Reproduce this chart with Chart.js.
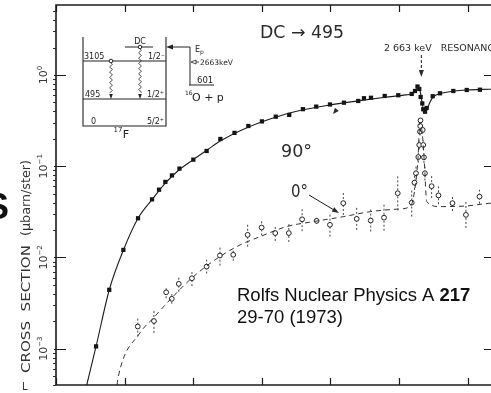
<!DOCTYPE html>
<html>
<head>
<meta charset="utf-8">
<script src="https://cdn.jsdelivr.net/npm/chart.js@4.4.1/dist/chart.umd.min.js"></script>
<style>
  html, body { margin: 0; padding: 0; background: #fff; overflow: hidden; width: 491px; height: 393px; }
  #wrap { position: relative; width: 500px; height: 393px; }
</style>
</head>
<body>
<div id="wrap"><canvas id="c" width="500" height="393"></canvas></div>
<script>
// 16O(p,γ)17F, direct capture to the 495 keV state. Proton energy in keV, yield in µb/sr.

// 90° measurements
const e90 = [292, 388, 491, 598, 700, 751, 797, 845, 900, 1001, 1098, 1198, 1301, 1402, 1501, 1602, 1700, 1800, 1897, 1997,
             2099, 2203, 2245, 2296, 2396, 2495, 2593, 2617, 2635, 2648, 2658, 2670, 2677, 2690, 2702, 2746, 2799, 2896, 2994, 3090];
const s90 = [1.06e-3, 4.42e-3, 1.21e-2, 2.69e-2, 4.33e-2, 5.53e-2, 6.73e-2, 7.93e-2, 9.41e-2, 0.118, 0.147, 0.199, 0.232, 0.276, 0.310, 0.349, 0.365, 0.422, 0.450, 0.475,
             0.497, 0.519, 0.556, 0.563, 0.589, 0.600, 0.620, 0.668, 0.748, 0.703, 0.574, 0.488, 0.421, 0.396, 0.435, 0.585, 0.630, 0.668, 0.685, 0.690];

// 90° calculated curve
const fitE90 = [224, 292, 388, 491, 598, 700, 800, 900, 1000, 1100, 1200, 1400, 1600, 1800, 2000, 2200, 2400, 2550, 2605, 2625,
                2640, 2655, 2668, 2680, 2692, 2705, 2725, 2750, 2800, 2900, 3000, 3100, 3200];
const fitS90 = [4.0e-4, 1.06e-3, 4.4e-3, 1.2e-2, 2.69e-2, 4.3e-2, 6.6e-2, 9.2e-2, 0.118, 0.15, 0.19, 0.268, 0.345, 0.415, 0.47, 0.52, 0.57, 0.605, 0.63, 0.68,
                0.75, 0.66, 0.50, 0.41, 0.385, 0.42, 0.50, 0.575, 0.625, 0.665, 0.685, 0.695, 0.70];

// 0° measurements with relative errors
const e0 = [596, 714, 803, 844, 895, 991, 1098, 1195, 1292, 1397, 1499, 1598, 1697, 1794, 1900, 1997, 2094, 2192, 2294, 2391,
            2491, 2593, 2613, 2624, 2641, 2648, 2653, 2655, 2657, 2673, 2677, 2682, 2689, 2738, 2788, 2890, 2988, 3087];
const s0 = [1.75e-3, 2.01e-3, 4.15e-3, 3.52e-3, 5.14e-3, 5.92e-3, 7.94e-3, 1.05e-2, 1.07e-2, 1.77e-2, 2.13e-2, 1.85e-2, 1.85e-2, 2.62e-2, 2.52e-2, 2.28e-2, 3.94e-2, 2.65e-2, 2.54e-2, 2.73e-2,
            5.06e-2, 3.99e-2, 6.61e-2, 8.37e-2, 0.126, 0.171, 0.239, 0.276, 0.318, 0.250, 0.171, 0.125, 8.37e-2, 6.04e-2, 4.79e-2, 3.94e-2, 2.93e-2, 4.64e-2];
const err0 = [0.29, 0.35, 0.16, 0.13, 0.22, 0.22, 0.19, 0.29, 0.16, 0.35, 0.22, 0.22, 0.25, 0.35, 0.08, 0.35, 0.35, 0.32, 0.32, 0.39,
              0.54, 0.42, 0.20, 0.20, 0.15, 0.12, 0.10, 0.10, 0.10, 0.10, 0.12, 0.15, 0.20, 0.35, 0.25, 0.22, 0.39, 0.19];

// 0° calculated curve
const fitE0 = [445, 454, 612, 709, 831, 989, 1159, 1341, 1487, 1681, 1875, 2094, 2294, 2483, 2580, 2609, 2638, 2653, 2671, 2686, 2702, 2799, 2993, 3163, 3200];
const fitS0 = [4.0e-4, 4.96e-4, 1.49e-3, 2.16e-3, 3.44e-3, 5.93e-3, 9.4e-3, 1.37e-2, 1.69e-2, 2.18e-2, 2.47e-2, 2.8e-2, 3.18e-2, 3.38e-2, 3.61e-2, 4.85e-2, 0.117, 0.305, 0.22, 0.103, 4.1e-2, 3.61e-2, 3.67e-2, 3.93e-2, 3.95e-2];

// axis ticks
const xTicks = [0, 500, 1000, 1500, 2000, 2500, 3000];
const yDecades = [-3, -2, -1, 0];
const resonanceKeV = 2663;

const pts = (xs, ys) => xs.map((x, i) => ({ x: x, y: ys[i] }));
const INK = '#1c1c1c';
const LETTER = '"DejaVu Sans", "Open Sans", sans-serif';
const NOTE = '"Liberation Sans", Arial, sans-serif';

function arrowHead(ctx, x, y, ang, len, wid, filled) {
  ctx.save();
  ctx.translate(x, y);
  ctx.rotate(ang);
  ctx.beginPath();
  ctx.moveTo(0, 0);
  ctx.lineTo(-len, -wid);
  ctx.lineTo(-len, wid);
  ctx.closePath();
  if (filled) ctx.fill(); else ctx.stroke();
  ctx.restore();
}

function wavy(ctx, x, y0, y1) {
  ctx.beginPath();
  for (let y = y0; y <= y1; y += 0.5) {
    const xx = x + 1.3 * Math.sin((y - y0) * 1.2);
    if (y === y0) ctx.moveTo(xx, y); else ctx.lineTo(xx, y);
  }
  ctx.stroke();
}

function fitText(ctx, txt, width) {
  const w = ctx.measureText(txt).width;
  ctx.save();
  ctx.scale(width / w, 1);
  ctx.fillText(txt, 0, 0);
  ctx.restore();
}

// error bars of the 0° data, beneath the markers
const errorBars = {
  id: 'errorBars',
  beforeDatasetsDraw(chart) {
    const { ctx, scales: { x, y }, chartArea: a } = chart;
    ctx.save();
    ctx.beginPath();
    ctx.rect(a.left, a.top, a.right - a.left, a.bottom - a.top);
    ctx.clip();
    ctx.strokeStyle = '#444';
    ctx.lineWidth = 1;
    ctx.setLineDash([2, 2]);
    e0.forEach((e, i) => {
      const px = x.getPixelForValue(e);
      const lo = y.getPixelForValue(s0[i] / (1 + err0[i]));
      const hi = y.getPixelForValue(s0[i] * (1 + err0[i]));
      ctx.beginPath();
      ctx.moveTo(px, lo);
      ctx.lineTo(px, hi);
      ctx.stroke();
    });
    ctx.restore();
  }
};

// frame, ticks, labels, level scheme and notes
const decor = {
  id: 'decor',
  afterDraw(chart) {
    const { ctx, scales: { x, y }, chartArea: a } = chart;
    ctx.save();
    ctx.strokeStyle = INK;
    ctx.fillStyle = INK;

    // frame (open on the right)
    ctx.lineWidth = 1.6;
    ctx.beginPath();
    ctx.moveTo(a.right + 4, a.top);
    ctx.lineTo(a.left, a.top);
    ctx.lineTo(a.left, a.bottom);
    ctx.lineTo(a.right + 4, a.bottom);
    ctx.stroke();

    // x ticks, top and bottom, pointing inward
    ctx.lineWidth = 1.2;
    xTicks.forEach(v => {
      const px = Math.round(x.getPixelForValue(v)) + 0.5;
      ctx.beginPath();
      ctx.moveTo(px, a.bottom); ctx.lineTo(px, a.bottom - 7);
      ctx.moveTo(px, a.top); ctx.lineTo(px, a.top + 7);
      ctx.stroke();
    });

    // y ticks: decades inward, minor outward
    yDecades.forEach(d => {
      const py = Math.round(y.getPixelForValue(Math.pow(10, d))) + 0.5;
      ctx.lineWidth = 1.2;
      ctx.beginPath();
      ctx.moveTo(a.left - 2, py); ctx.lineTo(a.left + 10, py);
      ctx.moveTo(a.right - 11, py); ctx.lineTo(a.right, py);
      ctx.stroke();
    });
    ctx.lineWidth = 0.9;
    for (let d = -4; d <= 0; d++) {
      for (let m = 2; m <= 9; m++) {
        const v = m * Math.pow(10, d);
        if (v < y.min || v > y.max) continue;
        const py = Math.round(y.getPixelForValue(v)) + 0.5;
        ctx.beginPath();
        ctx.moveTo(a.left - 3, py); ctx.lineTo(a.left, py);
        ctx.stroke();
      }
    }

    // decade labels, written upward
    ctx.fillStyle = '#333';
    yDecades.forEach(d => {
      const py = y.getPixelForValue(Math.pow(10, d));
      ctx.save();
      ctx.translate(44, py);
      ctx.rotate(-Math.PI / 2);
      ctx.textBaseline = 'middle';
      ctx.font = '11px ' + LETTER;
      const base = '10';
      const exp = d === 0 ? '0' : '\u2212' + (-d);
      const wb = ctx.measureText(base).width;
      ctx.font = '7px ' + LETTER;
      const we = ctx.measureText(exp).width;
      const x0 = -(wb + we) / 2;
      ctx.font = '11px ' + LETTER;
      ctx.fillText(base, x0, 0);
      ctx.font = '7px ' + LETTER;
      ctx.fillText(exp, x0 + wb, -4);
      ctx.restore();
    });

    // y axis title
    ctx.save();
    ctx.translate(30, 373);
    ctx.rotate(-Math.PI / 2);
    ctx.font = '13px ' + LETTER;
    ctx.textBaseline = 'alphabetic';
    fitText(ctx, 'CROSS  SECTION', 128);
    ctx.restore();
    ctx.save();
    ctx.translate(30, 236);
    ctx.rotate(-Math.PI / 2);
    ctx.font = '13px ' + LETTER;
    fitText(ctx, '(\u03BCbarn/ster)', 76);
    ctx.restore();

    // stray marks at the left margin
    ctx.fillStyle = '#111';
    ctx.font = 'bold 36px ' + NOTE;
    ctx.fillText('S', -15, 219);
    ctx.fillStyle = '#333';
    ctx.font = '10px ' + LETTER;
    ctx.fillText('L', 22, 390);

    // headings on the plot
    ctx.fillStyle = '#2a2a2a';
    ctx.save();
    ctx.translate(260, 38);
    ctx.font = '17px ' + LETTER;
    fitText(ctx, 'DC \u2192 495', 84);
    ctx.restore();
    ctx.save();
    ctx.translate(384, 51);
    ctx.font = '9.5px ' + LETTER;
    fitText(ctx, '2 663 keV   RESONANCE', 116);
    ctx.restore();

    // resonance arrow
    const rx = x.getPixelForValue(resonanceKeV);
    ctx.lineWidth = 1;
    ctx.setLineDash([3, 2]);
    ctx.beginPath();
    ctx.moveTo(rx, 55); ctx.lineTo(rx, 70);
    ctx.stroke();
    ctx.setLineDash([]);
    arrowHead(ctx, rx, 77, Math.PI / 2, 7, 2.5, true);

    // angle labels
    ctx.save();
    ctx.translate(281, 157);
    ctx.font = '18px ' + LETTER;
    fitText(ctx, '90\u00B0', 31);
    ctx.restore();
    ctx.save();
    ctx.translate(291, 197);
    ctx.font = '17px ' + LETTER;
    fitText(ctx, '0\u00B0', 17);
    ctx.restore();
    ctx.lineWidth = 1;
    ctx.beginPath();
    ctx.moveTo(309, 195); ctx.lineTo(334, 210);
    ctx.stroke();
    arrowHead(ctx, 339, 213, Math.atan2(18, 30), 7, 2.5, true);
    arrowHead(ctx, 333, 114, Math.atan2(6, -5), 6, 2.5, true);

    // reference note
    ctx.fillStyle = '#111';
    ctx.font = '18.5px ' + NOTE;
    const note = 'Rolfs Nuclear Physics A ';
    ctx.fillText(note, 237, 301);
    const nw = ctx.measureText(note).width;
    ctx.font = 'bold 18.5px ' + NOTE;
    ctx.fillText('217', 237 + nw, 301);
    ctx.font = '18.5px ' + NOTE;
    ctx.fillText('29-70 (1973)', 237, 323);

    // 17F level scheme
    ctx.strokeStyle = '#222';
    ctx.fillStyle = '#222';
    ctx.lineWidth = 1.1;
    ctx.beginPath();
    ctx.moveTo(83, 37); ctx.lineTo(83, 126); ctx.lineTo(166, 126); ctx.lineTo(166, 37);
    ctx.moveTo(83, 61); ctx.lineTo(166, 61);
    ctx.moveTo(83, 99); ctx.lineTo(166, 99);
    ctx.moveTo(125, 47); ctx.lineTo(153, 47);
    ctx.stroke();
    ctx.font = '8px ' + LETTER;
    ctx.textAlign = 'left';
    ctx.fillText('3105', 84, 59);
    ctx.fillText('495', 85, 97);
    ctx.fillText('0', 91, 124);
    ctx.textAlign = 'right';
    ctx.fillText('1/2\u207B', 165, 59);
    ctx.fillText('1/2\u207A', 164, 97);
    ctx.fillText('5/2\u207A', 164, 124);
    ctx.textAlign = 'center';
    ctx.fillText('DC', 140, 44);
    ctx.font = '7px ' + LETTER;
    ctx.fillText('17', 118, 132);
    ctx.font = '11px ' + LETTER;
    ctx.fillText('F', 126, 138);
    ctx.textAlign = 'left';

    ctx.lineWidth = 0.8;
    wavy(ctx, 140, 49, 93);
    wavy(ctx, 111, 63, 93);
    arrowHead(ctx, 140, 99, Math.PI / 2, 5, 1.8, true);
    arrowHead(ctx, 111, 99, Math.PI / 2, 5, 1.8, true);
    ctx.lineWidth = 1;
    ctx.fillStyle = '#fff';
    [[140, 47], [111, 61]].forEach(([cx, cy]) => {
      ctx.beginPath();
      ctx.arc(cx, cy, 1.8, 0, Math.PI * 2);
      ctx.fill();
      ctx.stroke();
    });
    ctx.fillStyle = '#222';

    // entrance channel
    ctx.lineWidth = 1;
    ctx.beginPath();
    ctx.moveTo(172, 47); ctx.lineTo(190, 47); ctx.lineTo(190, 85);
    ctx.moveTo(189, 85); ctx.lineTo(214, 85);
    ctx.stroke();
    arrowHead(ctx, 166, 47, Math.PI, 7, 2.5, true);
    ctx.font = '8px ' + LETTER;
    ctx.fillText('E', 195, 52);
    ctx.font = '6px ' + LETTER;
    ctx.fillText('p', 200, 54);
    ctx.lineWidth = 0.8;
    arrowHead(ctx, 191, 62, Math.PI, 5, 2, false);
    ctx.beginPath();
    ctx.moveTo(196, 62); ctx.lineTo(199, 62);
    ctx.stroke();
    ctx.font = '7.5px ' + LETTER;
    ctx.fillText('2663keV', 200, 65);
    ctx.font = '8.5px ' + LETTER;
    ctx.fillText('601', 197, 83);
    ctx.font = '6px ' + LETTER;
    ctx.fillText('16', 185, 95);
    ctx.font = '11px ' + LETTER;
    ctx.fillText('O + p', 192, 101);

    ctx.restore();
  }
};

new Chart(document.getElementById('c'), {
  type: 'scatter',
  data: {
    datasets: [
      {
        label: '90° calc',
        type: 'line',
        data: pts(fitE90, fitS90),
        borderColor: INK,
        borderWidth: 1.1,
        pointRadius: 0,
        cubicInterpolationMode: 'monotone',
        fill: false
      },
      {
        label: '0° calc',
        type: 'line',
        data: pts(fitE0, fitS0),
        borderColor: '#333',
        borderWidth: 1,
        borderDash: [5, 4],
        pointRadius: 0,
        cubicInterpolationMode: 'monotone',
        fill: false
      },
      {
        label: '90°',
        data: pts(e90, s90),
        pointStyle: 'rect',
        pointRadius: 3.0,
        backgroundColor: '#111',
        borderColor: '#111',
        borderWidth: 0
      },
      {
        label: '0°',
        data: pts(e0, s0),
        pointStyle: 'circle',
        pointRadius: 2.4,
        backgroundColor: '#fff',
        borderColor: '#222',
        borderWidth: 1
      }
    ]
  },
  options: {
    responsive: false,
    animation: false,
    devicePixelRatio: 1,
    layout: { padding: { left: 56, right: 5, top: 5, bottom: 8 } },
    plugins: { legend: { display: false }, tooltip: { enabled: false } },
    scales: {
      x: { type: 'linear', min: 0, max: 3200, display: false },
      y: { type: 'logarithmic', min: 4e-4, max: 5.85, display: false }
    }
  },
  plugins: [errorBars, decor]
});
</script>
</body>
</html>
